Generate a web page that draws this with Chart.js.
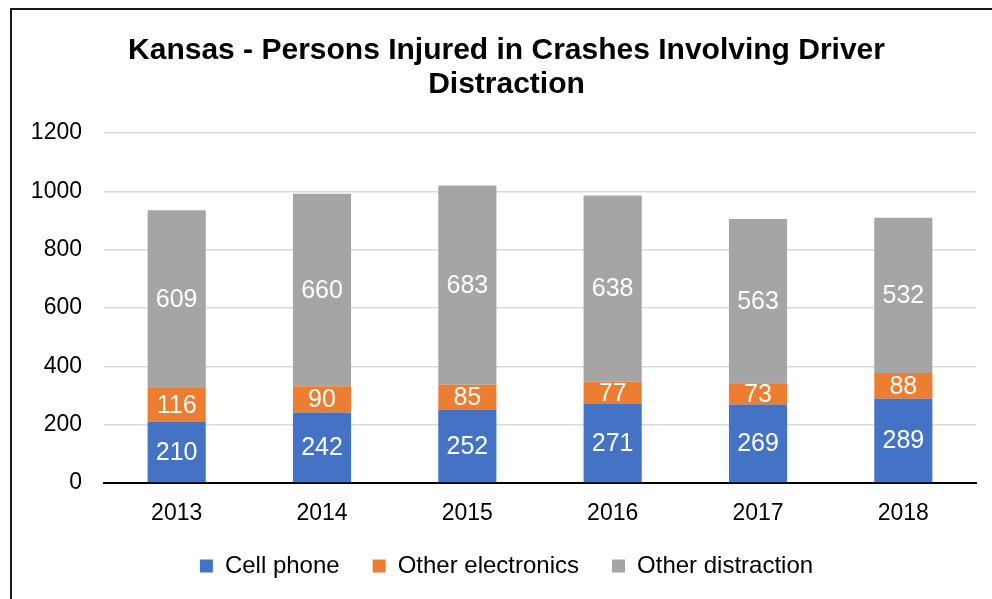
<!DOCTYPE html>
<html>
<head>
<meta charset="utf-8">
<script src="https://cdn.jsdelivr.net/npm/chart.js@4.4.1/dist/chart.umd.min.js"></script>
<style>
  html, body { margin:0; padding:0; background:#fff; overflow:hidden; }
  body { width:992px; height:599px; position:relative; }
  #frame { position:absolute; left:10px; top:8px; width:1000px; height:620px; border-left:2px solid #1a1a1a; border-top:2px solid #1a1a1a; }
  #wrap { position:absolute; left:11px; top:0; width:992px; height:604px; }
</style>
</head>
<body>
<div id="frame"></div>
<div id="wrap"><canvas id="c" width="992" height="604"></canvas></div>
<script>
const years = ["2013", "2014", "2015", "2016", "2017", "2018"];
const cellPhone = [210, 242, 252, 271, 269, 289];
const otherElectronics = [116, 90, 85, 77, 73, 88];
const otherDistraction = [609, 660, 683, 638, 563, 532];
const yTicks = [0, 200, 400, 600, 800, 1000, 1200];

const FONT = "'Liberation Sans', Arial, sans-serif";

const valueLabels = {
  id: 'valueLabels',
  afterDatasetsDraw(chart) {
    const ctx = chart.ctx;
    ctx.save();
    ctx.fillStyle = '#ffffff';
    ctx.font = '25px ' + FONT;
    ctx.textAlign = 'center';
    ctx.textBaseline = 'middle';
    chart.data.datasets.forEach((ds, i) => {
      const meta = chart.getDatasetMeta(i);
      meta.data.forEach((bar, j) => {
        const y = (bar.y + bar.base) / 2;
        ctx.fillText(String(ds.data[j]), bar.x, y + 1);
      });
    });
    ctx.restore();
  }
};

const widenYLabelArea = {
  id: 'widenYLabelArea',
  afterLayout(chart) { chart.scales.y.left = 0; }
};

new Chart(document.getElementById('c'), {
  type: 'bar',
  data: {
    labels: years,
    datasets: [
      { label: 'Cell phone', data: cellPhone, backgroundColor: '#4472C4' },
      { label: 'Other electronics', data: otherElectronics, backgroundColor: '#ED7D31' },
      { label: 'Other distraction', data: otherDistraction, backgroundColor: '#A5A5A5' }
    ]
  },
  options: {
    responsive: false,
    animation: false,
    layout: { padding: { left: 26, right: 27, top: 0, bottom: 16 } },
    datasets: { bar: { categoryPercentage: 1.0, barPercentage: 0.4 } },
    plugins: {
      title: {
        display: true,
        text: ['Kansas - Persons Injured in Crashes Involving Driver', 'Distraction'],
        color: '#000',
        font: { family: FONT, size: 30, weight: 'bold', lineHeight: 1.133 },
        padding: { top: 34, bottom: 31 }
      },
      legend: {
        position: 'bottom',
        labels: {
          color: '#000',
          font: { family: FONT, size: 24 },
          boxWidth: 13, boxHeight: 13,
          padding: 33
        }
      },
      tooltip: { enabled: false }
    },
    scales: {
      x: {
        stacked: true,
        grid: { display: false },
        border: { display: true, color: '#000', width: 2 },
        afterFit(axis) { axis.height = 38; },
        ticks: { color: '#000', font: { family: FONT, size: 23 }, padding: 9 }
      },
      y: {
        stacked: true,
        min: 0, max: 1200,
        afterBuildTicks(axis) { axis.ticks = yTicks.map(v => ({ value: v })); },
        afterFit(axis) { axis.width = 67; },
        grid: { color: '#D9D9D9', lineWidth: 1.5, drawTicks: false },
        border: { display: false },
        ticks: { color: '#000', font: { family: FONT, size: 23 }, padding: 22, callback: v => String(v) }
      }
    }
  },
  plugins: [valueLabels, widenYLabelArea]
});
</script>
</body>
</html>
